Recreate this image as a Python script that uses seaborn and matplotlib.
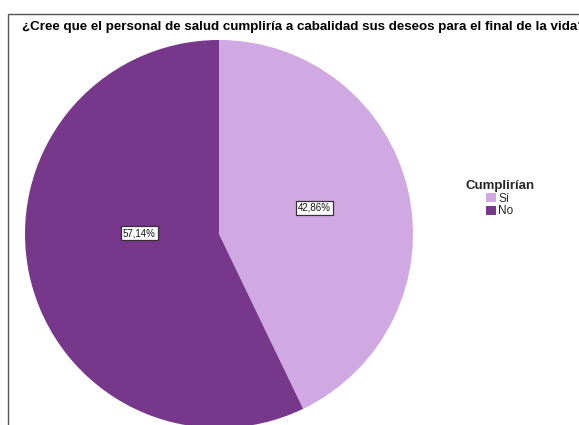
import matplotlib
matplotlib.use("Agg")
import matplotlib.pyplot as plt
from matplotlib.patches import Rectangle, Patch
import seaborn as sns

# Survey answers and their shares (%)
categories = ["Sí", "No"]
shares = [42.86, 57.14]
share_labels = ["42,86%", "57,14%"]
title = "¿Cree que el personal de salud cumpliría a cabalidad sus deseos para el final de la vida?"
legend_title = "Cumplirían"

sns.set_theme(style="white")
plt.rcParams["font.family"] = ["Liberation Sans", "DejaVu Sans"]
colors = sns.color_palette(["#D0A9E3", "#77378B"])

W, H = 579, 425
fig = plt.figure(figsize=(W / 100, H / 100), dpi=100)
fig.patch.set_facecolor("white")

# Outer frame (only top and left edges are visible)
fig.add_artist(Rectangle((8 / W, -0.1), 1.2, (H - 14) / H + 0.1,
                         transform=fig.transFigure, fill=False,
                         edgecolor="#555555", linewidth=1.0))

fig.text(22 / W, 1 - 27 / H, title, fontsize=9.6, fontweight="bold",
         ha="left", va="center", color="black")

# Pie axes: centre (219, 234) px, radius 194 px
r = 194
cx, cy = 219, 234
ax = fig.add_axes([(cx - r) / W, (H - cy - r) / H, 2 * r / W, 2 * r / H])
wedges, _ = ax.pie(shares, colors=colors, startangle=90, counterclock=False,
                   radius=1, wedgeprops=dict(linewidth=0))
ax.set_xlim(-1, 1)
ax.set_ylim(-1, 1)
ax.set_aspect("equal")
ax.axis("off")

# Percentage labels in boxed tags
label_pos = [(0.49, 0.135), (-0.41, 0.005)]
for (x, y), txt in zip(label_pos, share_labels):
    ax.text(x, y, txt, fontsize=7, ha="center", va="center", color="#111111",
            bbox=dict(boxstyle="square,pad=0.2", facecolor="white",
                      edgecolor="#333333", linewidth=0.9))

handles = [Patch(facecolor=c, edgecolor="none") for c in colors]
leg = fig.legend(handles, categories, title=legend_title,
                 loc="upper left", bbox_to_anchor=(457 / W, 1 - 172 / H),
                 frameon=False, fontsize=8.5, title_fontsize=9.5,
                 handlelength=0.85, handleheight=0.85, handletextpad=0.2,
                 labelspacing=0.05, borderpad=0.2)
leg.get_title().set_fontweight("bold")
leg._legend_box.align = "center"

fig.savefig("out.png", dpi=100, facecolor="white")
